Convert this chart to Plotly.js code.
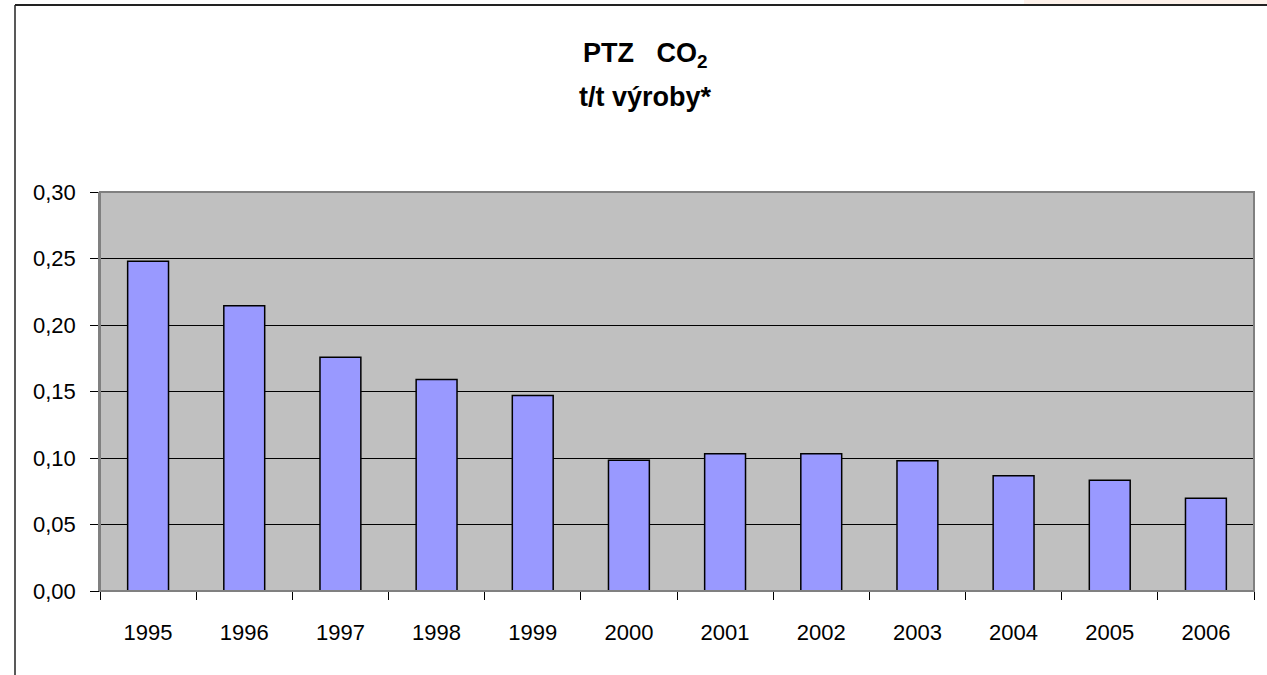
<!DOCTYPE html>
<html>
<head>
<meta charset="utf-8">
<script src="https://cdn.plot.ly/plotly-3.0.1.min.js"></script>
<style>html,body{margin:0;padding:0;background:#fff;}#chart{width:1267px;height:675px;}</style>
</head>
<body>
<div id="chart"></div>
<script>
const years = ["1995","1996","1997","1998","1999","2000","2001","2002","2003","2004","2005","2006"];
const co2PerTon = [0.248,0.2145,0.1757,0.159,0.147,0.0983,0.1032,0.1032,0.098,0.0867,0.0832,0.0697];
const titleLine1 = "PTZ   CO<sub>2</sub>";
const titleLine2 = "t/t výroby*";

const W = 1267, H = 675, L = 100, R = 13, T = 192, B = 84;
const pw = W - L - R, ph = H - T - B;
const px = v => (v - L) / pw;
const py = v => (H - B - v) / ph;

const font = "Arial, 'Liberation Sans', sans-serif";

Plotly.newPlot('chart', [{
  type: 'bar',
  x: years,
  y: co2PerTon,
  marker: {color: '#9999ff', line: {color: '#000000', width: 1.5}},
  hoverinfo: 'x+y'
}], {
  width: W, height: H, autosize: false,
  margin: {l: L, r: R, t: T, b: B, pad: 0},
  paper_bgcolor: 'rgba(0,0,0,0)',
  plot_bgcolor: '#c0c0c0',
  separators: ', ',
  bargap: 0.575,
  showlegend: false,
  font: {family: font, color: '#000', size: 22},
  xaxis: {
    type: 'category',
    tickson: 'boundaries',
    ticks: 'outside', ticklen: 8, tickcolor: '#000', tickwidth: 1,
    showline: true, linecolor: '#000', linewidth: 1,
    showgrid: false, zeroline: false,
    ticklabelstandoff: 22,
    tickfont: {size: 22, family: font, color: '#000'}
  },
  yaxis: {
    range: [0, 0.30], dtick: 0.05, tick0: 0, tickformat: '.2f',
    ticks: 'outside', ticklen: 8, tickcolor: '#000', tickwidth: 1,
    showline: true, linecolor: '#808080', linewidth: 1.5,
    showgrid: true, gridcolor: '#000', gridwidth: 1,
    zeroline: false,
    ticklabelstandoff: 10,
    tickfont: {size: 22, family: font, color: '#000'}
  },
  shapes: [
    {type: 'rect', xref: 'paper', yref: 'paper', x0: 0, x1: 1, y0: 0, y1: 1, line: {color: '#808080', width: 2}, layer: 'above'},
    {type: 'rect', xref: 'paper', yref: 'paper', x0: px(1024), x1: px(1267), y0: py(5), y1: py(0), fillcolor: '#fdf1ea', line: {width: 0}},
    {type: 'line', xref: 'paper', yref: 'paper', x0: px(15), x1: px(1267), y0: py(5), y1: py(5), line: {color: '#222', width: 2}},
    {type: 'line', xref: 'paper', yref: 'paper', x0: px(15), x1: px(15), y0: py(5), y1: py(675), line: {color: '#222', width: 1.5}}
  ],
  annotations: [
    {xref: 'paper', yref: 'paper', x: px(645), y: py(55), xanchor: 'center', yanchor: 'middle', showarrow: false,
     text: '<b>' + titleLine1 + '</b>', font: {size: 27, family: font, color: '#000'}},
    {xref: 'paper', yref: 'paper', x: px(645), y: py(97), xanchor: 'center', yanchor: 'middle', showarrow: false,
     text: '<b>' + titleLine2 + '</b>', font: {size: 27, family: font, color: '#000'}}
  ]
}, {displayModeBar: false, staticPlot: false});
</script>
</body>
</html>
